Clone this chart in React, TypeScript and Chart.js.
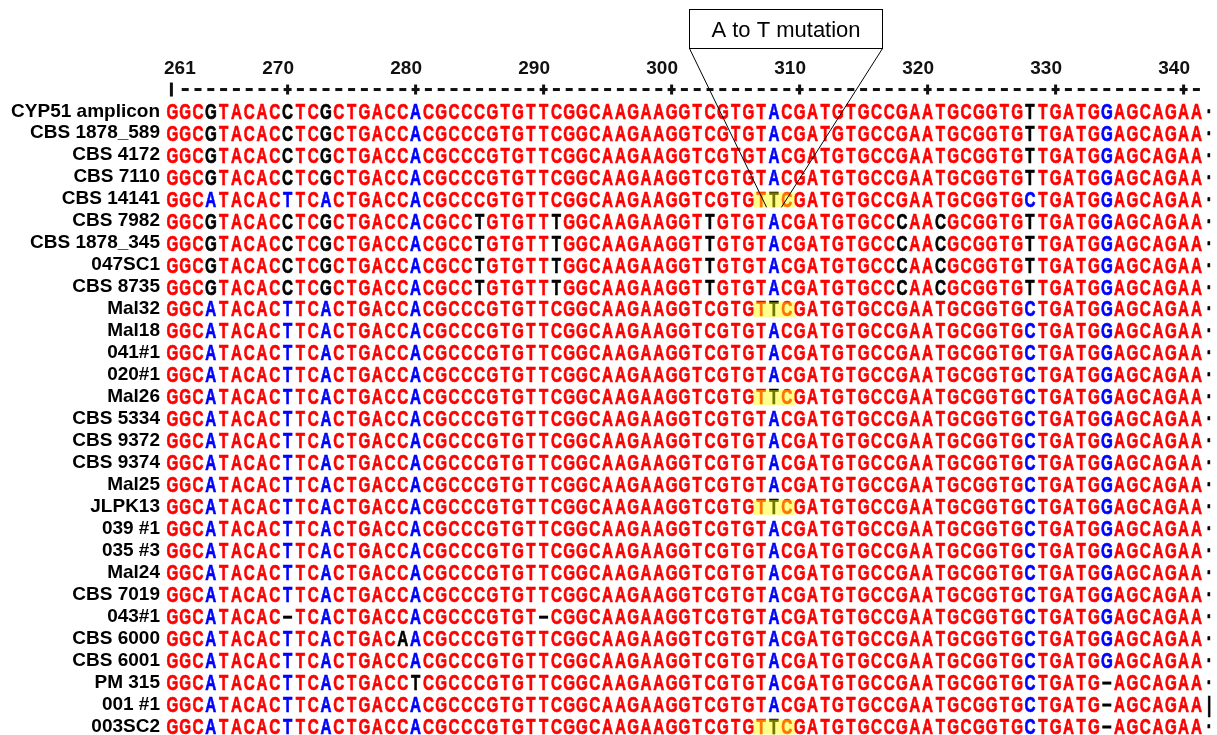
import React, { useEffect, useRef } from "react";
import { Chart, registerables } from "chart.js";

Chart.register(...registerables);

// ---- data ----
const startPosition = 261;

const rowLabels = [
  "CYP51 amplicon", "CBS 1878_589", "CBS 4172", "CBS 7110", "CBS 14141",
  "CBS 7982", "CBS 1878_345", "047SC1", "CBS 8735", "Mal32",
  "Mal18", "041#1", "020#1", "Mal26", "CBS 5334",
  "CBS 9372", "CBS 9374", "Mal25", "JLPK13", "039 #1",
  "035 #3", "Mal24", "CBS 7019", "043#1", "CBS 6000",
  "CBS 6001", "PM 315", "001 #1", "003SC2",
];

// aligned sequences, positions 261..342 (spaces only group columns by ten)
const sequences = [
  "GGCGTACACC TCGCTGACCA CGCCCGTGTT CGGCAAGAAG GTCGTGTACG ATGTGCCGAA TGCGGTGTTG ATGGAGCAGA A·",
  "GGCGTACACC TCGCTGACCA CGCCCGTGTT CGGCAAGAAG GTCGTGTACG ATGTGCCGAA TGCGGTGTTG ATGGAGCAGA A·",
  "GGCGTACACC TCGCTGACCA CGCCCGTGTT CGGCAAGAAG GTCGTGTACG ATGTGCCGAA TGCGGTGTTG ATGGAGCAGA A·",
  "GGCGTACACC TCGCTGACCA CGCCCGTGTT CGGCAAGAAG GTCGTGTACG ATGTGCCGAA TGCGGTGTTG ATGGAGCAGA A·",
  "GGCATACACT TCACTGACCA CGCCCGTGTT CGGCAAGAAG GTCGTGTTCG ATGTGCCGAA TGCGGTGCTG ATGGAGCAGA A·",
  "GGCGTACACC TCGCTGACCA CGCCTGTGTT TGGCAAGAAG GTTGTGTACG ATGTGCCCAA CGCGGTGTTG ATGGAGCAGA A·",
  "GGCGTACACC TCGCTGACCA CGCCTGTGTT TGGCAAGAAG GTTGTGTACG ATGTGCCCAA CGCGGTGTTG ATGGAGCAGA A·",
  "GGCGTACACC TCGCTGACCA CGCCTGTGTT TGGCAAGAAG GTTGTGTACG ATGTGCCCAA CGCGGTGTTG ATGGAGCAGA A·",
  "GGCGTACACC TCGCTGACCA CGCCTGTGTT TGGCAAGAAG GTTGTGTACG ATGTGCCCAA CGCGGTGTTG ATGGAGCAGA A·",
  "GGCATACACT TCACTGACCA CGCCCGTGTT CGGCAAGAAG GTCGTGTTCG ATGTGCCGAA TGCGGTGCTG ATGGAGCAGA A·",
  "GGCATACACT TCACTGACCA CGCCCGTGTT CGGCAAGAAG GTCGTGTACG ATGTGCCGAA TGCGGTGCTG ATGGAGCAGA A·",
  "GGCATACACT TCACTGACCA CGCCCGTGTT CGGCAAGAAG GTCGTGTACG ATGTGCCGAA TGCGGTGCTG ATGGAGCAGA A·",
  "GGCATACACT TCACTGACCA CGCCCGTGTT CGGCAAGAAG GTCGTGTACG ATGTGCCGAA TGCGGTGCTG ATGGAGCAGA A·",
  "GGCATACACT TCACTGACCA CGCCCGTGTT CGGCAAGAAG GTCGTGTTCG ATGTGCCGAA TGCGGTGCTG ATGGAGCAGA A·",
  "GGCATACACT TCACTGACCA CGCCCGTGTT CGGCAAGAAG GTCGTGTACG ATGTGCCGAA TGCGGTGCTG ATGGAGCAGA A·",
  "GGCATACACT TCACTGACCA CGCCCGTGTT CGGCAAGAAG GTCGTGTACG ATGTGCCGAA TGCGGTGCTG ATGGAGCAGA A·",
  "GGCATACACT TCACTGACCA CGCCCGTGTT CGGCAAGAAG GTCGTGTACG ATGTGCCGAA TGCGGTGCTG ATGGAGCAGA A·",
  "GGCATACACT TCACTGACCA CGCCCGTGTT CGGCAAGAAG GTCGTGTACG ATGTGCCGAA TGCGGTGCTG ATGGAGCAGA A·",
  "GGCATACACT TCACTGACCA CGCCCGTGTT CGGCAAGAAG GTCGTGTTCG ATGTGCCGAA TGCGGTGCTG ATGGAGCAGA A·",
  "GGCATACACT TCACTGACCA CGCCCGTGTT CGGCAAGAAG GTCGTGTACG ATGTGCCGAA TGCGGTGCTG ATGGAGCAGA A·",
  "GGCATACACT TCACTGACCA CGCCCGTGTT CGGCAAGAAG GTCGTGTACG ATGTGCCGAA TGCGGTGCTG ATGGAGCAGA A·",
  "GGCATACACT TCACTGACCA CGCCCGTGTT CGGCAAGAAG GTCGTGTACG ATGTGCCGAA TGCGGTGCTG ATGGAGCAGA A·",
  "GGCATACACT TCACTGACCA CGCCCGTGTT CGGCAAGAAG GTCGTGTACG ATGTGCCGAA TGCGGTGCTG ATGGAGCAGA A·",
  "GGCATACAC- TCACTGACCA CGCCCGTGT- CGGCAAGAAG GTCGTGTACG ATGTGCCGAA TGCGGTGCTG ATGGAGCAGA A·",
  "GGCATACACT TCACTGACAA CGCCCGTGTT CGGCAAGAAG GTCGTGTACG ATGTGCCGAA TGCGGTGCTG ATGGAGCAGA A·",
  "GGCATACACT TCACTGACCA CGCCCGTGTT CGGCAAGAAG GTCGTGTACG ATGTGCCGAA TGCGGTGCTG ATGGAGCAGA A·",
  "GGCATACACT TCACTGACCT CGCCCGTGTT CGGCAAGAAG GTCGTGTACG ATGTGCCGAA TGCGGTGCTG ATG-AGCAGA A·",
  "GGCATACACT TCACTGACCA CGCCCGTGTT CGGCAAGAAG GTCGTGTACG ATGTGCCGAA TGCGGTGCTG ATG-AGCAGA A|",
  "GGCATACACT TCACTGACCA CGCCCGTGTT CGGCAAGAAG GTCGTGTTCG ATGTGCCGAA TGCGGTGCTG ATG-AGCAGA A·",
];

// consensus colouring per residue: r = high, b = low, k = neutral/none
const colorCodes = [
  "rrrkrrrrrk rrkrrrrrrb rrrrrrrrrr rrrrrrrrrr rrrrrrrbrr rrrrrrrrrr rrrrrrrkrr rrrbrrrrrr rk",
  "rrrkrrrrrk rrkrrrrrrb rrrrrrrrrr rrrrrrrrrr rrrrrrrbrr rrrrrrrrrr rrrrrrrkrr rrrbrrrrrr rk",
  "rrrkrrrrrk rrkrrrrrrb rrrrrrrrrr rrrrrrrrrr rrrrrrrbrr rrrrrrrrrr rrrrrrrkrr rrrbrrrrrr rk",
  "rrrkrrrrrk rrkrrrrrrb rrrrrrrrrr rrrrrrrrrr rrrrrrrbrr rrrrrrrrrr rrrrrrrkrr rrrbrrrrrr rk",
  "rrrbrrrrrb rrbrrrrrrb rrrrrrrrrr rrrrrrrrrr rrrrrrrkrr rrrrrrrrrr rrrrrrrbrr rrrbrrrrrr rk",
  "rrrkrrrrrk rrkrrrrrrb rrrrkrrrrr krrrrrrrrr rrkrrrrbrr rrrrrrrkrr krrrrrrkrr rrrbrrrrrr rk",
  "rrrkrrrrrk rrkrrrrrrb rrrrkrrrrr krrrrrrrrr rrkrrrrbrr rrrrrrrkrr krrrrrrkrr rrrbrrrrrr rk",
  "rrrkrrrrrk rrkrrrrrrb rrrrkrrrrr krrrrrrrrr rrkrrrrbrr rrrrrrrkrr krrrrrrkrr rrrbrrrrrr rk",
  "rrrkrrrrrk rrkrrrrrrb rrrrkrrrrr krrrrrrrrr rrkrrrrbrr rrrrrrrkrr krrrrrrkrr rrrbrrrrrr rk",
  "rrrbrrrrrb rrbrrrrrrb rrrrrrrrrr rrrrrrrrrr rrrrrrrkrr rrrrrrrrrr rrrrrrrbrr rrrbrrrrrr rk",
  "rrrbrrrrrb rrbrrrrrrb rrrrrrrrrr rrrrrrrrrr rrrrrrrbrr rrrrrrrrrr rrrrrrrbrr rrrbrrrrrr rk",
  "rrrbrrrrrb rrbrrrrrrb rrrrrrrrrr rrrrrrrrrr rrrrrrrbrr rrrrrrrrrr rrrrrrrbrr rrrbrrrrrr rk",
  "rrrbrrrrrb rrbrrrrrrb rrrrrrrrrr rrrrrrrrrr rrrrrrrbrr rrrrrrrrrr rrrrrrrbrr rrrbrrrrrr rk",
  "rrrbrrrrrb rrbrrrrrrb rrrrrrrrrr rrrrrrrrrr rrrrrrrkrr rrrrrrrrrr rrrrrrrbrr rrrbrrrrrr rk",
  "rrrbrrrrrb rrbrrrrrrb rrrrrrrrrr rrrrrrrrrr rrrrrrrbrr rrrrrrrrrr rrrrrrrbrr rrrbrrrrrr rk",
  "rrrbrrrrrb rrbrrrrrrb rrrrrrrrrr rrrrrrrrrr rrrrrrrbrr rrrrrrrrrr rrrrrrrbrr rrrbrrrrrr rk",
  "rrrbrrrrrb rrbrrrrrrb rrrrrrrrrr rrrrrrrrrr rrrrrrrbrr rrrrrrrrrr rrrrrrrbrr rrrbrrrrrr rk",
  "rrrbrrrrrb rrbrrrrrrb rrrrrrrrrr rrrrrrrrrr rrrrrrrbrr rrrrrrrrrr rrrrrrrbrr rrrbrrrrrr rk",
  "rrrbrrrrrb rrbrrrrrrb rrrrrrrrrr rrrrrrrrrr rrrrrrrkrr rrrrrrrrrr rrrrrrrbrr rrrbrrrrrr rk",
  "rrrbrrrrrb rrbrrrrrrb rrrrrrrrrr rrrrrrrrrr rrrrrrrbrr rrrrrrrrrr rrrrrrrbrr rrrbrrrrrr rk",
  "rrrbrrrrrb rrbrrrrrrb rrrrrrrrrr rrrrrrrrrr rrrrrrrbrr rrrrrrrrrr rrrrrrrbrr rrrbrrrrrr rk",
  "rrrbrrrrrb rrbrrrrrrb rrrrrrrrrr rrrrrrrrrr rrrrrrrbrr rrrrrrrrrr rrrrrrrbrr rrrbrrrrrr rk",
  "rrrbrrrrrb rrbrrrrrrb rrrrrrrrrr rrrrrrrrrr rrrrrrrbrr rrrrrrrrrr rrrrrrrbrr rrrbrrrrrr rk",
  "rrrbrrrrrk rrbrrrrrrb rrrrrrrrrk rrrrrrrrrr rrrrrrrbrr rrrrrrrrrr rrrrrrrbrr rrrbrrrrrr rk",
  "rrrbrrrrrb rrbrrrrrkb rrrrrrrrrr rrrrrrrrrr rrrrrrrbrr rrrrrrrrrr rrrrrrrbrr rrrbrrrrrr rk",
  "rrrbrrrrrb rrbrrrrrrb rrrrrrrrrr rrrrrrrrrr rrrrrrrbrr rrrrrrrrrr rrrrrrrbrr rrrbrrrrrr rk",
  "rrrbrrrrrb rrbrrrrrrk rrrrrrrrrr rrrrrrrrrr rrrrrrrbrr rrrrrrrrrr rrrrrrrbrr rrrkrrrrrr rk",
  "rrrbrrrrrb rrbrrrrrrb rrrrrrrrrr rrrrrrrrrr rrrrrrrbrr rrrrrrrrrr rrrrrrrbrr rrrkrrrrrr rk",
  "rrrbrrrrrb rrbrrrrrrb rrrrrrrrrr rrrrrrrrrr rrrrrrrkrr rrrrrrrrrr rrrrrrrbrr rrrkrrrrrr rk",
];

const rulerNumbers = [261, 270, 280, 290, 300, 310, 320, 330, 340];
const rulerEnd = 341;

const highlightRows = ["CBS 14141", "Mal32", "Mal26", "JLPK13", "003SC2"];
const highlightFrom = 307;
const highlightTo = 309;

const annotationText = "A to T mutation";
const annotationRow = "CBS 14141";
const annotationPosition = 308;
const annotationBoxCenter = 309;

// ---- styles ----
const residueColors: Record<string, string> = { r: "#ff0000", b: "#0000ff", k: "#000000" };
const residueFont = "bold 22px 'Liberation Sans', Arial, sans-serif";
const labelFont = "bold 19px 'Liberation Sans', Arial, sans-serif";
const numberFont = "bold 19px 'Liberation Sans', Arial, sans-serif";
const annotationFont = "22px 'Liberation Sans', Arial, sans-serif";

const clean = (s: string) => s.replace(/ /g, "");

export default function App() {
  const ref = useRef<HTMLCanvasElement | null>(null);

  useEffect(() => {
    document.body.style.margin = "0";
    const canvas = ref.current;
    if (!canvas) return;

    const seqs = sequences.map(clean);
    const cols = colorCodes.map(clean);

    const datasets = rowLabels.map((label, r) => ({
      label,
      data: seqs[r].split("").map((_, i) => ({ x: startPosition + i, y: label })),
      pointRadius: 0,
      pointHoverRadius: 0,
      borderWidth: 0,
      showLine: false,
    }));

    const alignmentPlugin = {
      id: "alignmentText",
      afterDatasetsDraw(chart: any) {
        const ctx: CanvasRenderingContext2D = chart.ctx;
        const xs = chart.scales.x;
        const ys = chart.scales.y;
        const colW = xs.getPixelForValue(startPosition + 1) - xs.getPixelForValue(startPosition);
        const rowH = ys.getPixelForValue(1) - ys.getPixelForValue(0);
        const y0 = ys.getPixelForValue(0);

        ctx.save();

        // row labels
        ctx.font = labelFont;
        ctx.fillStyle = "#000";
        ctx.textAlign = "right";
        ctx.textBaseline = "alphabetic";
        rowLabels.forEach((lab, r) => {
          const y = ys.getPixelForValue(r);
          ctx.fillText(lab, xs.left - 6, y + 5.5);
        });

        // residues
        ctx.font = residueFont;
        ctx.textAlign = "center";
        chart.data.datasets.forEach((ds: any, r: number) => {
          const meta = chart.getDatasetMeta(r);
          meta.data.forEach((el: any, i: number) => {
            const ch = seqs[r][i];
            const c = residueColors[cols[r][i]] || "#000";
            ctx.fillStyle = c;
            if (ch === "-") {
              ctx.fillRect(el.x - 4.5, el.y - 0.5, 9, 3);
              return;
            }
            ctx.save();
            ctx.translate(el.x, el.y + 7.8);
            ctx.scale(0.69, 1);
            ctx.strokeStyle = c;
            ctx.lineWidth = 0.7;
            ctx.fillText(ch, 0, 0);
            ctx.strokeText(ch, 0, 0);
            ctx.restore();
          });
        });

        // highlights (yellow overlay)
        ctx.fillStyle = "rgba(255,255,0,0.45)";
        highlightRows.forEach((lab) => {
          const r = rowLabels.indexOf(lab);
          const y = ys.getPixelForValue(r);
          const xa = xs.getPixelForValue(highlightFrom - 0.62);
          const xb = xs.getPixelForValue(highlightTo + 0.62);
          ctx.fillRect(xa, y - 6.5, xb - xa, 15);
        });

        // ruler
        const ry = y0 - rowH + 0.5;
        ctx.fillStyle = "#111";
        for (let p = startPosition; p <= rulerEnd; p++) {
          const x = xs.getPixelForValue(p);
          if (p === startPosition) {
            ctx.fillRect(x - 2.5, ry - 7, 3, 14);
          } else if (p % 10 === 0) {
            ctx.fillRect(x - 4, ry - 1.5, 8, 3);
            ctx.fillRect(x - 1.5, ry - 5, 3, 10);
          } else {
            ctx.fillRect(x - 3.5, ry - 1.5, 7, 3);
          }
        }

        // ruler numbers
        ctx.font = numberFont;
        ctx.fillStyle = "#111";
        const ny = y0 - 2 * rowH + 7;
        rulerNumbers.forEach((n, k) => {
          if (k === 0) {
            ctx.textAlign = "left";
            ctx.fillText(String(n), xs.getPixelForValue(n - 0.5) - 2, ny);
          } else {
            ctx.textAlign = "right";
            ctx.fillText(String(n), xs.getPixelForValue(n + 0.5), ny);
          }
        });

        // annotation box + pointer lines
        const ar = rowLabels.indexOf(annotationRow);
        const tipY = ys.getPixelForValue(ar) + 8.5;
        const tipL = xs.getPixelForValue(annotationPosition - 0.5) - 1;
        const tipR = xs.getPixelForValue(annotationPosition + 0.5) + 1;
        const bc = xs.getPixelForValue(annotationBoxCenter) - 1.5;
        const bw = colW * 15.1;
        const bTop = 9.5;
        const bBot = 48.5;
        const bl = Math.round(bc - bw / 2) + 0.5;
        const br = Math.round(bc + bw / 2) + 0.5;
        ctx.strokeStyle = "#000";
        ctx.lineWidth = 1;
        ctx.beginPath();
        ctx.moveTo(bl, bBot);
        ctx.lineTo(tipL, tipY);
        ctx.moveTo(br, bBot);
        ctx.lineTo(tipR, tipY);
        ctx.stroke();
        ctx.fillStyle = "#fff";
        ctx.fillRect(bl, bTop, br - bl, bBot - bTop);
        ctx.strokeRect(bl, bTop, br - bl, bBot - bTop);
        ctx.fillStyle = "#000";
        ctx.font = annotationFont;
        ctx.textAlign = "center";
        ctx.fillText(annotationText, (bl + br) / 2, 37);

        ctx.restore();
      },
    };

    const chart = new Chart(canvas, {
      type: "scatter",
      data: { labels: rowLabels, datasets: datasets as any },
      options: {
        responsive: false,
        animation: false,
        events: [],
        layout: { autoPadding: false, padding: { left: 166, right: 1.4, top: 111, bottom: 9 } } as any,
        plugins: { legend: { display: false }, tooltip: { enabled: false } },
        scales: {
          x: { type: "linear", min: startPosition - 0.5, max: rulerEnd + 1.5, display: false },
          y: { type: "category", labels: rowLabels, offset: false, display: false },
        },
      },
      plugins: [alignmentPlugin],
    });
    return () => chart.destroy();
  }, []);

  return (
    <div style={{ width: 1217, height: 735, background: "#fff" }}>
      <canvas ref={ref} width={1217} height={735} style={{ display: "block" }} />
    </div>
  );
}
